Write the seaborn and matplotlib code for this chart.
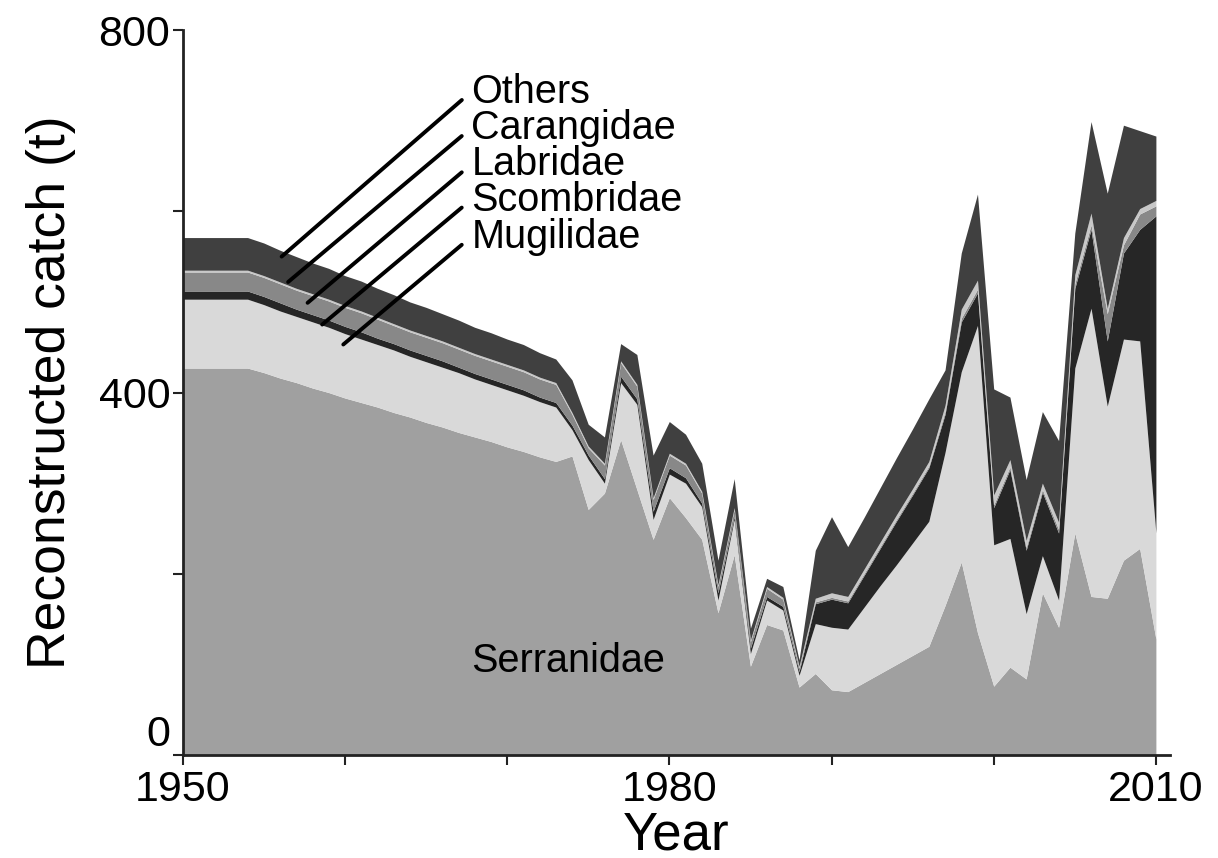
import numpy as np
import pandas as pd
import matplotlib
matplotlib.use("Agg")
import matplotlib.pyplot as plt
import seaborn as sns

years = list(range(1950, 2011))

serranidae = [427, 427, 427, 427, 427,
              422, 416, 411, 405, 400, 394, 389, 384, 378, 373, 367, 362, 356, 351, 346, 340, 335, 329, 324,
              330, 271, 289, 348, 293, 238, 284, 262, 238, 157, 221, 98, 144, 138, 75, 90,
              72, 70, 80, 90, 100, 110, 120, 165, 213, 135, 76, 97, 84, 179, 141, 245, 175, 173, 215, 228, 128]
mugilidae = [76, 76, 76, 76, 76,
             75, 74, 73, 73, 72, 71, 70, 69, 69, 67, 67, 66, 66, 64, 63, 63, 62, 61, 60,
             29, 55, 11, 63, 94, 22, 26, 38, 36, 14, 39, 14, 27, 22, 13, 55,
             69, 69, 83, 97, 110, 124, 138, 169, 210, 339, 156, 142, 72, 41, 30, 182, 318, 212, 244, 229, 117]
scombridae = [9, 9, 9, 9, 9,
              9, 9, 8, 8, 8, 8, 8, 7, 7, 7, 7, 7, 6, 6, 6, 6, 6, 5, 5,
              5, 5, 5, 7, 6, 9, 7, 6, 4, 8, 3, 6, 4, 4, 4, 22,
              31, 29, 35, 41, 48, 53, 59, 42, 55, 36, 41, 76, 70, 70, 74, 88, 87, 72, 95, 123, 350]
labridae = [21, 21, 21, 21, 21,
            21, 21, 21, 21, 21, 21, 21, 21, 20, 20, 20, 20, 20, 20, 20, 20, 20, 20, 20,
            12, 8, 15, 15, 14, 13, 14, 14, 11, 7, 8, 7, 9, 8, 4, 2,
            2, 2, 2, 2, 2, 2, 2, 3, 4, 4, 3, 3, 3, 3, 4, 5, 5, 30, 9, 17, 11]
carangidae = [2, 2, 2, 2, 2,
              2, 2, 2, 2, 2, 2, 2, 2, 2, 2, 2, 2, 2, 2, 2, 2, 2, 2, 2,
              2, 2, 2, 2, 2, 2, 2, 2, 2, 2, 2, 2, 2, 2, 2, 4,
              5, 5, 5, 5, 5, 5, 5, 7, 10, 10, 11, 8, 8, 7, 8, 10, 13, 6, 8, 6, 6]
others = [36, 36, 36, 36, 36,
          36, 35, 35, 34, 34, 33, 33, 32, 32, 31, 31, 30, 30, 29, 29, 28, 28, 27, 26,
          36, 24, 29, 19, 33, 47, 35, 32, 31, 27, 32, 13, 9, 12, 7, 53,
          84, 55, 57, 60, 63, 66, 69, 39, 62, 95, 117, 69, 67, 79, 90, 46, 101, 127, 124, 86, 71]

groups = ["Serranidae", "Mugilidae", "Scombridae", "Labridae", "Carangidae", "Others"]
colors = ["#a0a0a0", "#d9d9d9", "#262626", "#888888", "#c8c8c8", "#404040"]

df = pd.DataFrame({"Year": years, "Serranidae": serranidae, "Mugilidae": mugilidae,
                   "Scombridae": scombridae, "Labridae": labridae,
                   "Carangidae": carangidae, "Others": others})

sns.set_style("ticks")
plt.rcParams['font.family'] = ['Liberation Sans', 'DejaVu Sans']
plt.rcParams['text.color'] = 'black'
plt.rcParams['axes.labelcolor'] = 'black'
plt.rcParams['xtick.color'] = 'black'
plt.rcParams['ytick.color'] = 'black'

fig = plt.figure(figsize=(12.18, 8.58), dpi=100)
ax = fig.add_axes([0.150, 0.120, 0.811, 0.845])

ax.stackplot(df["Year"], *[df[g] for g in groups], colors=colors, linewidth=0)

ax.set_xlim(1950, 2010.9)
ax.set_ylim(0, 800)
ax.set_xticks([1950, 1960, 1970, 1980, 1990, 2000, 2010])
ax.set_xticklabels(["1950", "", "", "1980", "", "", "2010"])
ax.set_yticks([0, 200, 400, 600, 800])
ax.set_yticklabels(["0", "", "400", "", "800"])
ax.tick_params(axis="both", length=7, width=1.5, color="#222222", labelsize=31, pad=2,
               labelcolor="black")
ax.tick_params(axis="x", pad=4)
ax.get_yticklabels()[0].set_verticalalignment("bottom")
sns.despine(ax=ax)
for s in ["left", "bottom"]:
    ax.spines[s].set_linewidth(2)
    ax.spines[s].set_color("#222222")

ax.set_xlabel("Year", fontsize=38, labelpad=0, color="black")
ax.set_ylabel("Reconstructed catch (t)", fontsize=38.5, labelpad=16, color="black")

labels = [("Others", (1967.8, 732), (1956.1, 550)),
          ("Carangidae", (1967.8, 692), (1956.5, 522)),
          ("Labridae", (1967.8, 652), (1957.7, 499)),
          ("Scombridae", (1967.8, 613), (1958.6, 475)),
          ("Mugilidae", (1967.8, 572), (1959.9, 453))]
for txt, tpos, ppos in labels:
    ax.annotate(txt, xy=ppos, xytext=tpos, fontsize=28.5, ha="left", va="center",
                color="black",
                arrowprops=dict(arrowstyle="-", color="black", lw=2.8,
                                relpos=(0, 0.5), shrinkA=6, shrinkB=0))

ax.text(1967.8, 104, "Serranidae", fontsize=28.5, ha="left", va="center", color="black")

fig.savefig("out.png", dpi=100)
